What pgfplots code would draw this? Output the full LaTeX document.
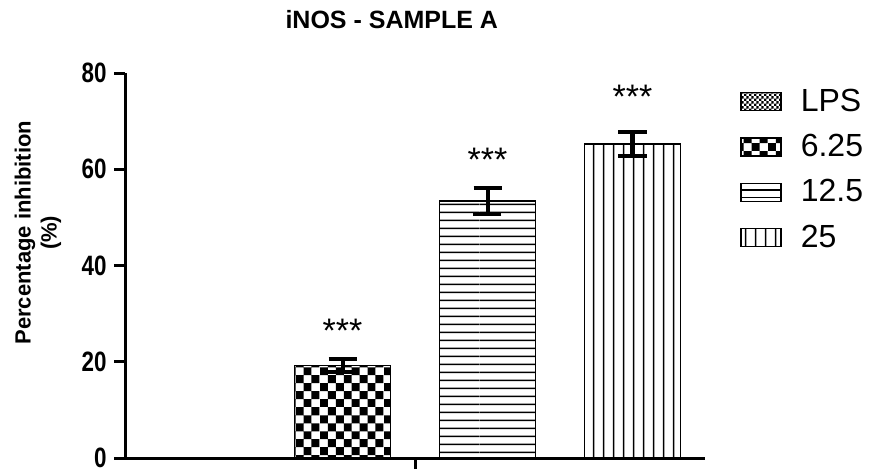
\documentclass[border=0pt]{standalone}
\usepackage{pgfplots}
\pgfplotsset{compat=1.18}
\usepackage{fontspec}
\setmainfont{Liberation Sans}
\newfontfamily\condfont[FakeStretch=0.8]{Liberation Sans}
\usetikzlibrary{patterns}

\pgfdeclarepatternformonly{finecheck}{\pgfpointorigin}{\pgfpoint{2.4pt}{2.4pt}}{\pgfpoint{2.4pt}{2.4pt}}{%
  \pgfpathrectangle{\pgfpointorigin}{\pgfpoint{1.2pt}{1.2pt}}%
  \pgfpathrectangle{\pgfpoint{1.2pt}{1.2pt}}{\pgfpoint{1.2pt}{1.2pt}}%
  \pgfusepath{fill}}
\pgfdeclarepatternformonly{bigcheck}{\pgfpointorigin}{\pgfpoint{32pt}{32pt}}{\pgfpoint{32pt}{32pt}}{%
  \pgfpathrectangle{\pgfpoint{0pt}{0pt}}{\pgfpoint{4pt}{4pt}}%
  \pgfpathrectangle{\pgfpoint{8pt}{0pt}}{\pgfpoint{4pt}{4pt}}%
  \pgfpathrectangle{\pgfpoint{16pt}{0pt}}{\pgfpoint{4pt}{4pt}}%
  \pgfpathrectangle{\pgfpoint{24pt}{0pt}}{\pgfpoint{4pt}{4pt}}%
  \pgfpathrectangle{\pgfpoint{4pt}{4pt}}{\pgfpoint{4pt}{4pt}}%
  \pgfpathrectangle{\pgfpoint{12pt}{4pt}}{\pgfpoint{4pt}{4pt}}%
  \pgfpathrectangle{\pgfpoint{20pt}{4pt}}{\pgfpoint{4pt}{4pt}}%
  \pgfpathrectangle{\pgfpoint{28pt}{4pt}}{\pgfpoint{4pt}{4pt}}%
  \pgfpathrectangle{\pgfpoint{0pt}{8pt}}{\pgfpoint{4pt}{4pt}}%
  \pgfpathrectangle{\pgfpoint{8pt}{8pt}}{\pgfpoint{4pt}{4pt}}%
  \pgfpathrectangle{\pgfpoint{16pt}{8pt}}{\pgfpoint{4pt}{4pt}}%
  \pgfpathrectangle{\pgfpoint{24pt}{8pt}}{\pgfpoint{4pt}{4pt}}%
  \pgfpathrectangle{\pgfpoint{4pt}{12pt}}{\pgfpoint{4pt}{4pt}}%
  \pgfpathrectangle{\pgfpoint{12pt}{12pt}}{\pgfpoint{4pt}{4pt}}%
  \pgfpathrectangle{\pgfpoint{20pt}{12pt}}{\pgfpoint{4pt}{4pt}}%
  \pgfpathrectangle{\pgfpoint{28pt}{12pt}}{\pgfpoint{4pt}{4pt}}%
  \pgfpathrectangle{\pgfpoint{0pt}{16pt}}{\pgfpoint{4pt}{4pt}}%
  \pgfpathrectangle{\pgfpoint{8pt}{16pt}}{\pgfpoint{4pt}{4pt}}%
  \pgfpathrectangle{\pgfpoint{16pt}{16pt}}{\pgfpoint{4pt}{4pt}}%
  \pgfpathrectangle{\pgfpoint{24pt}{16pt}}{\pgfpoint{4pt}{4pt}}%
  \pgfpathrectangle{\pgfpoint{4pt}{20pt}}{\pgfpoint{4pt}{4pt}}%
  \pgfpathrectangle{\pgfpoint{12pt}{20pt}}{\pgfpoint{4pt}{4pt}}%
  \pgfpathrectangle{\pgfpoint{20pt}{20pt}}{\pgfpoint{4pt}{4pt}}%
  \pgfpathrectangle{\pgfpoint{28pt}{20pt}}{\pgfpoint{4pt}{4pt}}%
  \pgfpathrectangle{\pgfpoint{0pt}{24pt}}{\pgfpoint{4pt}{4pt}}%
  \pgfpathrectangle{\pgfpoint{8pt}{24pt}}{\pgfpoint{4pt}{4pt}}%
  \pgfpathrectangle{\pgfpoint{16pt}{24pt}}{\pgfpoint{4pt}{4pt}}%
  \pgfpathrectangle{\pgfpoint{24pt}{24pt}}{\pgfpoint{4pt}{4pt}}%
  \pgfpathrectangle{\pgfpoint{4pt}{28pt}}{\pgfpoint{4pt}{4pt}}%
  \pgfpathrectangle{\pgfpoint{12pt}{28pt}}{\pgfpoint{4pt}{4pt}}%
  \pgfpathrectangle{\pgfpoint{20pt}{28pt}}{\pgfpoint{4pt}{4pt}}%
  \pgfpathrectangle{\pgfpoint{28pt}{28pt}}{\pgfpoint{4pt}{4pt}}%
  \pgfusepath{fill}}
\pgfdeclarepatternformonly{hstripes}{\pgfpointorigin}{\pgfpoint{60pt}{3.85pt}}{\pgfpoint{60pt}{3.85pt}}{%
  \pgfpathrectangle{\pgfpoint{0pt}{1.5pt}}{\pgfpoint{60pt}{0.8pt}}%
  \pgfusepath{fill}}
\pgfdeclarepatternformonly{vstripes}{\pgfpointorigin}{\pgfpoint{4.75pt}{60pt}}{\pgfpoint{4.75pt}{60pt}}{%
  \pgfpathrectangle{\pgfpoint{2pt}{0pt}}{\pgfpoint{0.8pt}{60pt}}%
  \pgfusepath{fill}}

\begin{document}
\begin{tikzpicture}
\path[use as bounding box] (0,0) rectangle (436.5pt,235.5pt);
\begin{axis}[
  at={(62.5pt,6.5pt)}, anchor=south west,
  scale only axis, width=290pt, height=192.5pt,
  xmin=-0.5, xmax=3.5, ymin=0, ymax=80,
  axis x line=bottom, axis y line=left,
  axis line style={-, line width=1.5pt},
  every tick/.style={line width=1.5pt, black},
  tick align=outside, major tick length=5.5pt,
  xtick={1.5}, xticklabels={},
  ytick={0,20,40,60,80},
  /pgf/number format/assume math mode=true,
  yticklabel style={font=\fontsize{14}{16}\condfont\bfseries, inner sep=0.5pt, xshift=-3pt},
  ybar, bar width=0.662, bar shift=0pt,
  every axis title shift=0pt,
  title={iNOS - SAMPLE A},
  title style={font=\fontsize{12.5}{14}\selectfont\bfseries, at={(axis description cs:0.46,1.138)}, anchor=center},
  ylabel={Percentage inhibition\\(\%)},
  ylabel style={font=\fontsize{11}{13}\selectfont\bfseries, align=center, at={(axis description cs:-0.15,0.585)}, anchor=center},
  legend style={at={(axis description cs:1.06,0.97)}, anchor=north west, draw=none, fill=none, inner sep=0pt,
    font=\fontsize{16}{18}\selectfont, row sep=6pt,
    /tikz/every odd column/.style={column sep=7.5pt}},
  legend cell align=left,
  legend image code/.code={\draw[#1, draw=black, line width=0.8pt] (0pt,-4.5pt) rectangle (20pt,4.5pt);},
  error bars/error bar style={line width=2pt, black},
  error bars/error mark options={rotate=90, mark size=7pt, line width=2pt, black},
]
\addplot[draw=none, pattern=finecheck, pattern color=black] coordinates {(0,0)};
\addlegendentry{LPS}
\addplot[draw=black, line width=0.8pt, pattern=bigcheck, pattern color=black,
  error bars/.cd, y dir=both, y explicit] coordinates {(1,19.2) +- (0,1.4)};
\addlegendentry{6.25}
\addplot[draw=black, line width=0.8pt, pattern=hstripes, pattern color=black,
  error bars/.cd, y dir=both, y explicit] coordinates {(2,53.4) +- (0,2.8)};
\addlegendentry{12.5}
\addplot[draw=black, line width=0.8pt, pattern=vstripes, pattern color=black,
  error bars/.cd, y dir=both, y explicit] coordinates {(3,65.2) +- (0,2.5)};
\addlegendentry{25}
\node[font=\fontsize{17}{19}\selectfont] at (axis cs:1,26.4) {***};
\node[font=\fontsize{17}{19}\selectfont] at (axis cs:2,62) {***};
\node[font=\fontsize{17}{19}\selectfont] at (axis cs:3,75) {***};
\end{axis}
\end{tikzpicture}
\end{document}
